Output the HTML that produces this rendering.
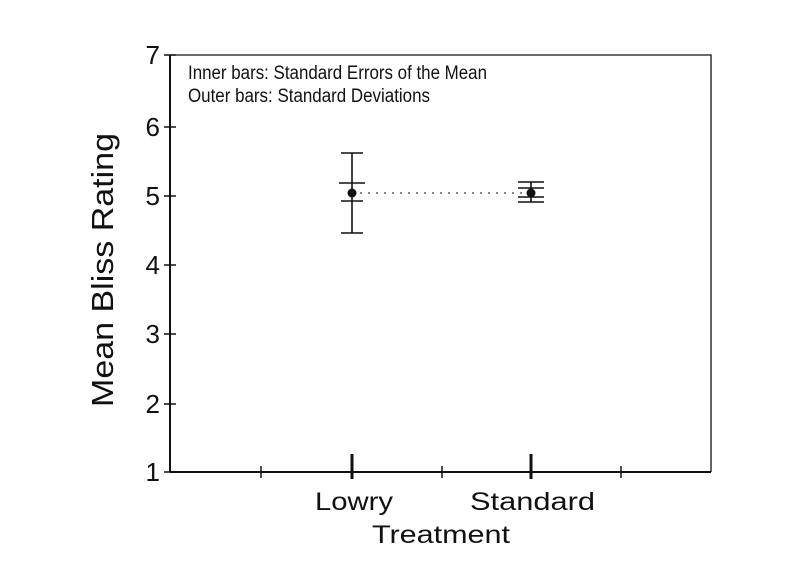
<!DOCTYPE html>
<html><head><meta charset="utf-8"><style>body{margin:0;background:#fff}svg{display:block}</style></head><body>
<svg width="790" height="574" viewBox="0 0 790 574" xmlns="http://www.w3.org/2000/svg" font-family="Liberation Sans, Arial, sans-serif" fill="#111">
<rect width="790" height="574" fill="#fff"/>
<g stroke="#111" fill="none">
<polyline points="170,55 711,55 711,472" stroke-width="1.3"/>
<line x1="170" y1="55" x2="170" y2="472" stroke-width="2"/>
<line x1="170" y1="472" x2="711" y2="472" stroke-width="2"/>
<g stroke-width="1.5">
<line x1="164" y1="55" x2="176" y2="55"/><line x1="164" y1="127" x2="176" y2="127"/><line x1="164" y1="196" x2="176" y2="196"/><line x1="164" y1="265" x2="176" y2="265"/><line x1="164" y1="334" x2="176" y2="334"/><line x1="164" y1="404" x2="176" y2="404"/><line x1="164" y1="472" x2="176" y2="472"/>
<line x1="261" y1="466" x2="261" y2="478"/><line x1="442" y1="466" x2="442" y2="478"/><line x1="621" y1="466" x2="621" y2="478"/>
</g>
<g stroke-width="3"><line x1="352" y1="454" x2="352" y2="479"/><line x1="531" y1="454" x2="531" y2="479"/></g>
<line x1="352" y1="193" x2="531" y2="193" stroke-width="1" stroke-dasharray="2,6"/>
<g stroke-width="1.6">
<line x1="352" y1="153" x2="352" y2="233"/><line x1="341" y1="153" x2="363" y2="153"/><line x1="341" y1="233" x2="363" y2="233"/>
<line x1="339" y1="183" x2="365" y2="183"/><line x1="341" y1="201" x2="363" y2="201"/>
<line x1="531" y1="182" x2="531" y2="202"/><line x1="518" y1="182" x2="544" y2="182"/><line x1="518" y1="202" x2="544" y2="202"/>
<line x1="518" y1="188" x2="544" y2="188"/><line x1="518" y1="197" x2="544" y2="197"/>
</g>
</g>
<circle cx="352" cy="193" r="4.5"/><circle cx="531" cy="193" r="4.5"/>
<g font-size="19"><text x="188" y="79" textLength="299" lengthAdjust="spacingAndGlyphs">Inner bars:  Standard Errors of the Mean</text><text x="188" y="102" textLength="242" lengthAdjust="spacingAndGlyphs">Outer bars: Standard Deviations</text></g>
<g font-size="26" text-anchor="end">
<text x="160" y="64">7</text><text x="160" y="136">6</text><text x="160" y="205">5</text><text x="160" y="274">4</text><text x="160" y="343">3</text><text x="160" y="413">2</text><text x="160" y="481">1</text>
</g>
<g font-size="25">
<text x="315" y="510" textLength="78" lengthAdjust="spacingAndGlyphs">Lowry</text>
<text x="470" y="510" textLength="125" lengthAdjust="spacingAndGlyphs">Standard</text>
<text x="372" y="543" textLength="138" lengthAdjust="spacingAndGlyphs">Treatment</text>
<text font-size="31" transform="translate(113,407) rotate(-90)" textLength="274" lengthAdjust="spacingAndGlyphs">Mean Bliss Rating</text>
</g>
</svg>
</body></html>
